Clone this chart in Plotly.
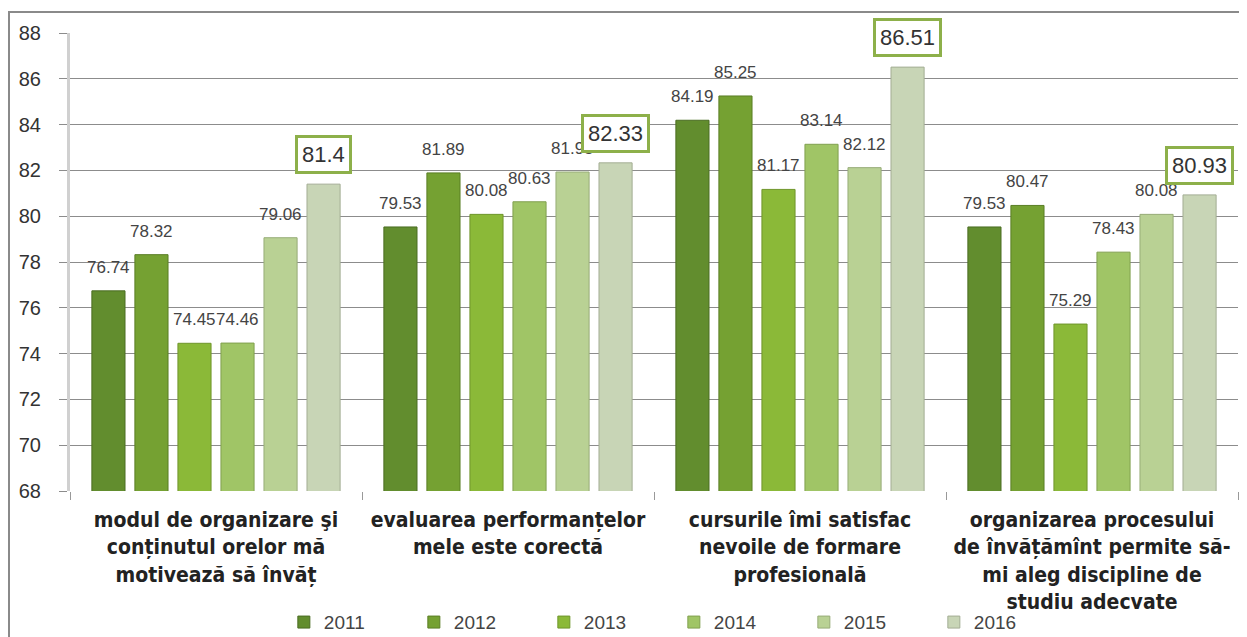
import plotly.graph_objects as go

categories = [
    "modul de organizare şi<br>conținutul orelor mă<br>motivează să învăț",
    "evaluarea performanțelor<br>mele este corectă",
    "cursurile îmi satisfac<br>nevoile de formare<br>profesională",
    "organizarea procesului<br>de învățămînt permite să-<br>mi aleg discipline de<br>studiu adecvate",
]
years = ["2011", "2012", "2013", "2014", "2015", "2016"]
v2011 = [76.74, 79.53, 84.19, 79.53]
v2012 = [78.32, 81.89, 85.25, 80.47]
v2013 = [74.45, 80.08, 81.17, 75.29]
v2014 = [74.46, 80.63, 83.14, 78.43]
v2015 = [79.06, 81.93, 82.12, 80.08]
v2016 = [81.40, 82.33, 86.51, 80.93]
series = [v2011, v2012, v2013, v2014, v2015, v2016]
colors = ["#628d2e", "#75a132", "#8bb938", "#a0c566", "#b9d194", "#c8d5b6"]
edges = ["#4a6c22", "#5a7e25", "#6f962b", "#80a04f", "#97ac78", "#a3ad94"]

BARGAP = 0.116
GROUPGAP = 0.23
n = len(series)
slot = (1 - BARGAP) / n

fig = go.Figure()
xs = list(range(len(categories)))
for j, (yr, vals) in enumerate(zip(years, series)):
    fig.add_trace(go.Bar(
        name=yr, x=xs, y=vals,
        marker=dict(color=colors[j], line=dict(color=edges[j], width=1)),
    ))

annotations = []
for j, vals in enumerate(series):
    off = -(1 - BARGAP) / 2 + slot * (j + 0.5)
    for i, v in enumerate(vals):
        txt = f"{v:g}"
        if j == n - 1:
            annotations.append(dict(
                x=i + off, y=v, xref="x", yref="y", text=txt, showarrow=False,
                yanchor="bottom", yshift=10,
                font=dict(family="Liberation Sans, Arial", size=22, color="#333333"),
                bgcolor="white", bordercolor="#8db04a", borderwidth=3, borderpad=4,
            ))
        else:
            annotations.append(dict(
                x=i + off, y=v, xref="x", yref="y", text=txt, showarrow=False,
                yanchor="bottom", yshift=12,
                font=dict(family="Liberation Sans, Arial", size=17, color="#444444"),
            ))
annotations.sort(key=lambda a: 1 if a.get("borderwidth") else 0)

PW = 1168  # plot width in px
# the page adds an 8px body margin, so the figure is 8px smaller
fig.update_layout(
    barmode="group", bargap=BARGAP, bargroupgap=GROUPGAP,
    width=1239, height=629,
    margin=dict(l=62, r=9, t=25, b=146, autoexpand=False),
    plot_bgcolor="white", paper_bgcolor="white",
    annotations=annotations,
    showlegend=True,
    legend=dict(orientation="h", x=0.517, xanchor="center", y=-0.328, yanchor="bottom",
                entrywidth=85, entrywidthmode="pixels", itemwidth=30,
                bgcolor="rgba(0,0,0,0)",
                font=dict(family="Liberation Sans, Arial", size=19, color="#444444"),
                traceorder="normal"),
    shapes=[dict(type="rect", xref="paper", yref="paper",
                 x0=-61 / PW, x1=1.02, y0=-0.45, y1=1.0459,
                 line=dict(color="#8a8a8a", width=2), fillcolor="rgba(0,0,0,0)", layer="below")],
)
fig.update_xaxes(
    range=[-0.5, len(categories) - 0.5], automargin=False,
    tickmode="array", tickvals=xs, ticktext=[f"<b>{c}</b>" for c in categories], ticks="",
    ticklabelstandoff=14,
    tickfont=dict(family="DejaVu Sans Condensed, Liberation Sans Narrow, Arial", size=21, color="#222222"),
    showgrid=False, showline=False, zeroline=False,
    minor=dict(tickmode="array", tickvals=[-0.5, 0.5, 1.5, 2.5, 3.5], ticks="outside",
               ticklen=8, tickcolor="#999999", showgrid=False),
)
fig.update_yaxes(
    range=[68, 88], dtick=2, tick0=68, automargin=False,
    showgrid=True, gridcolor="#8c8c8c", gridwidth=1,
    showline=True, linecolor="#d0d0d0", linewidth=3,
    ticks="outside", ticklen=8, tickcolor="#8c8c8c", ticklabelstandoff=14,
    tickfont=dict(family="Liberation Sans, Arial", size=20, color="#333333"),
    zeroline=False,
)
fig.write_html("out.html")
